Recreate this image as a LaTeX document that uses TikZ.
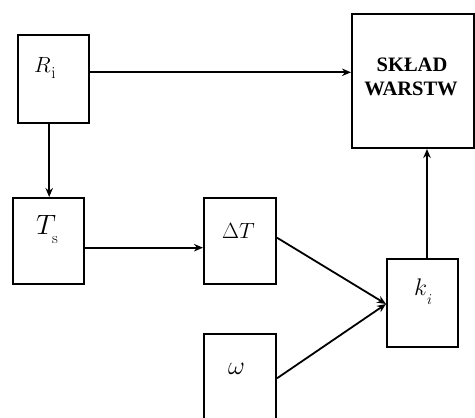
\RequirePackage{fix-cm}
\documentclass[tikz,border=0pt]{standalone}
\usepackage{fontspec}
\newfontfamily\timesfont{Liberation Serif}
\usetikzlibrary{arrows.meta}
\tikzset{
  blk/.style={draw, line width=2pt, minimum width=71pt, minimum height=88pt, inner sep=0pt},
  lab/.style={inner sep=0pt, anchor=base west},
  skl/.style={inner sep=0pt, anchor=base, font=\timesfont\bfseries\fontsize{20.5}{24}\selectfont},
  conn/.style={line width=1.8pt, -{Stealth[length=9pt,width=7.5pt]}}
}
\newcommand{\fs}[1]{\fontsize{#1}{#1}\selectfont}
\begin{document}
\begin{tikzpicture}[x=1pt,y=-1pt]
\clip (0,0) rectangle (475,418);
\fill[white] (0,0) rectangle (475,418);
% boxes
\node[blk] (R) at (53.5,79) {};
\node[blk, minimum width=122pt, minimum height=134pt] (SK) at (413,81) {};
\node[blk, minimum height=86pt] (Ts) at (48.5,241) {};
\node[blk, minimum width=72pt, minimum height=86pt] (dT) at (240,241) {};
\node[blk, minimum width=72pt, minimum height=100pt] (om) at (240,384) {};
\node[blk] (k) at (422.5,303) {};
% labels
\node[lab] (Rl) at (34,72) {\fs{22}$R$\kern0.5pt\raisebox{-6pt}{\fs{17}i}};
\node[lab] (Tl) at (36,234) {\fs{28}$T$\kern-4pt\raisebox{-9pt}{\fs{16}s}};
\node[lab] (dTl) at (222,238) {\fs{22}$\Delta T$};
\node[lab] (oml) at (228,374) {\fs{26}$\omega$};
\node[lab] (kl) at (414,295.7) {\fs{24}$k$\kern0pt\raisebox{-9pt}{\fs{15}$i$}};
\node[skl] (SK1) at (412,71) {SKŁAD};
\node[skl] (SK2) at (411,95) {WARSTW};
% connectors
\draw[conn] ([yshift=6.7pt]R.east) -- ([yshift=8.7pt]SK.west);
\draw[conn] ([xshift=0.7pt]R.south -| Ts.north) -- ([xshift=0.7pt]Ts.north);
\draw[conn] ([yshift=-6.7pt]Ts.east) -- ([yshift=-6.7pt]dT.west);
\draw[conn] ([xshift=4.5pt]k.north) -- ([xshift=4.5pt]k.north |- SK.south);
\coordinate (kin) at ([yshift=-1pt]k.west);
\draw[conn] ([yshift=3.3pt]dT.east) -- (kin);
\draw[conn] ([yshift=5.7pt]om.east) -- (kin);
\end{tikzpicture}
\end{document}
